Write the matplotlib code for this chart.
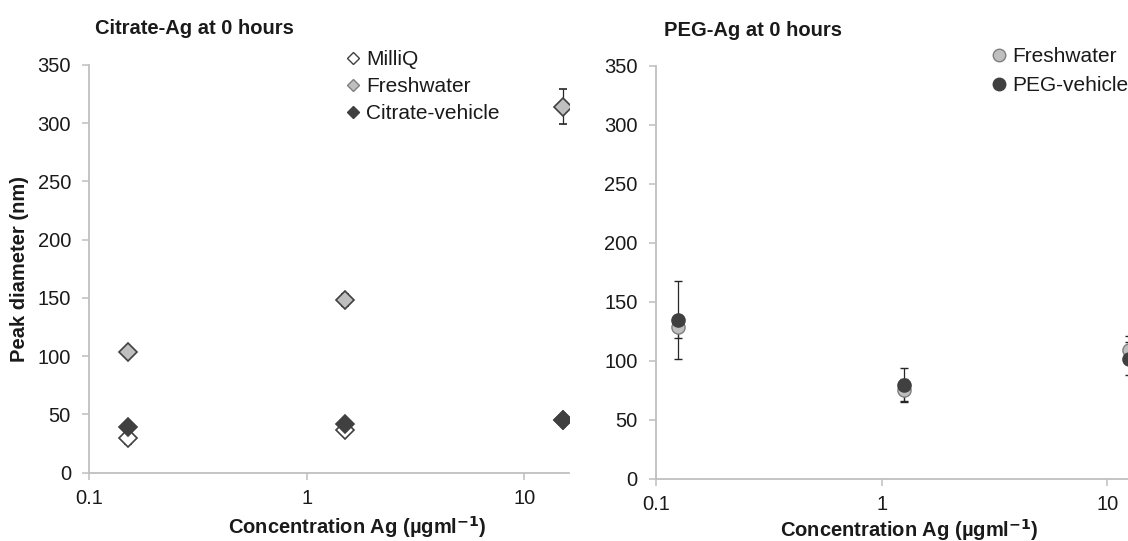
import matplotlib
matplotlib.use("Agg")
import matplotlib.pyplot as plt
from matplotlib.ticker import FixedLocator, FixedFormatter, NullLocator
from matplotlib.lines import Line2D

plt.rcParams['font.family'] = ['Liberation Sans', 'DejaVu Sans']

# Citrate-Ag panel
cit_conc = [0.15, 1.5, 15]
cit_milliq = [30, 37, 45]
cit_milliq_err = [5, 3, 2]
cit_fresh = [104, 148, 314]
cit_fresh_err = [2, 5, 15]
cit_vehicle = [39, 42, 45]
cit_vehicle_err = [2, 2, 2]

# PEG-Ag panel
peg_conc = [0.125, 1.25, 12.5]
peg_fresh = [129, 75, 109]
peg_fresh_err = [10, 10, 12]
peg_vehicle = [135, 80, 102]
peg_vehicle_err = [33, 14, 14]

x_ticks = [0.1, 1, 10]
x_tick_labels = ['0.1', '1', '10']
y_ticks = [0, 50, 100, 150, 200, 250, 300, 350]

W, H = 1128, 541
fig = plt.figure(figsize=(W / 100, H / 100), dpi=100)

ax1 = fig.add_axes([89.3 / W, (H - 472.7) / H, 480 / W, 407.7 / H])
ax2 = fig.add_axes([656 / W, (H - 479) / H, 472 / W, 413.4 / H])

spine_col = '#bfbfbf'
txt_col = '#1a1a1a'


def style_axes(ax, xmax):
    ax.set_xscale('log')
    ax.set_xlim(0.1, xmax)
    ax.set_ylim(0, 350)
    ax.xaxis.set_major_locator(FixedLocator(x_ticks))
    ax.xaxis.set_major_formatter(FixedFormatter(x_tick_labels))
    ax.xaxis.set_minor_locator(NullLocator())
    ax.set_yticks(y_ticks)
    for s in ['top', 'right']:
        ax.spines[s].set_visible(False)
    for s in ['left', 'bottom']:
        ax.spines[s].set_color(spine_col)
        ax.spines[s].set_linewidth(1.3)
    ax.tick_params(axis='both', direction='out', length=4.7, width=1.1,
                   color=spine_col, labelsize=14.5, labelcolor=txt_col)
    ax.tick_params(axis='y', pad=8.5)
    ax.tick_params(axis='x', pad=7)
    ax.patch.set_alpha(0)


style_axes(ax1, 10 ** ((569.3 - 89.3) / 217.5) * 0.1)
style_axes(ax2, 10 ** ((1128 - 656) / 225.7) * 0.1)
ax2.set_zorder(2)

err_kw = dict(ecolor='#262626', elinewidth=0.9, capsize=3.2, capthick=0.9, linestyle='none')

ax1.errorbar(cit_conc, cit_milliq, yerr=cit_milliq_err, fmt='D', ms=9.5,
             mfc='white', mec='#404040', mew=1.2, **err_kw)
ax1.errorbar(cit_conc, cit_fresh, yerr=cit_fresh_err, fmt='D', ms=9.5,
             mfc='#bfbfbf', mec='#404040', mew=1.2, **err_kw)
ax1.errorbar(cit_conc, cit_vehicle, yerr=cit_vehicle_err, fmt='D', ms=9.5,
             mfc='#404040', mec='#404040', mew=1.2, **err_kw)

r1 = ax2.errorbar(peg_conc, peg_fresh, yerr=peg_fresh_err, fmt='o', ms=9.5,
                  mfc='#bfbfbf', mec='#7f7f7f', mew=1.0, **err_kw)
r2 = ax2.errorbar(peg_conc, peg_vehicle, yerr=peg_vehicle_err, fmt='o', ms=9.5,
                  mfc='#404040', mec='#404040', mew=1.0, **err_kw)
for r in (r1, r2):
    r[0].set_clip_on(False)
    for c in r[1]:
        c.set_clip_on(False)
    for c in r[2]:
        c.set_clip_on(False)

# titles
fig.text(94.6 / W, 1 - 28.3 / H, 'Citrate-Ag at 0 hours', fontsize=14.5,
         fontweight='bold', color=txt_col, ha='left', va='center')
fig.text(664.3 / W, 1 - 30.4 / H, 'PEG-Ag at 0 hours', fontsize=14.5,
         fontweight='bold', color=txt_col, ha='left', va='center')

# axis labels
fig.text(19.6 / W, 1 - 269 / H, 'Peak diameter (nm)', fontsize=14.5,
         fontweight='bold', color=txt_col, rotation=90, ha='center', va='center')
fig.text(357 / W, 1 - 527 / H, 'Concentration Ag (\u00b5gml$^{\\mathbf{-1}}$)',
         fontsize=14.5, fontweight='bold', color=txt_col, ha='center', va='center')
fig.text(909.5 / W, 1 - 530 / H, 'Concentration Ag (\u00b5gml$^{\\mathbf{-1}}$)',
         fontsize=14.5, fontweight='bold', color=txt_col, ha='center', va='center')

# legends
h1 = [Line2D([], [], marker='D', ls='none', ms=6.5, mfc='white', mec='#404040', mew=1.0),
      Line2D([], [], marker='D', ls='none', ms=6.5, mfc='#bfbfbf', mec='#7f7f7f', mew=1.0),
      Line2D([], [], marker='D', ls='none', ms=6.5, mfc='#404040', mec='#404040', mew=1.0)]
leg1 = fig.legend(h1, ['MilliQ', 'Freshwater', 'Citrate-vehicle'], loc='upper left',
                  bbox_to_anchor=(347 / W, 1 - 50 / H), frameon=False, fontsize=15,
                  handlelength=0.6, handletextpad=0.3, labelspacing=0.38, borderpad=0,
                  borderaxespad=0)
h2 = [Line2D([], [], marker='o', ls='none', ms=9, mfc='#bfbfbf', mec='#7f7f7f', mew=1.0),
      Line2D([], [], marker='o', ls='none', ms=9, mfc='#404040', mec='#404040', mew=1.0)]
leg2 = fig.legend(h2, ['Freshwater', 'PEG-vehicle'], loc='upper left',
                  bbox_to_anchor=(993 / W, 1 - 47.5 / H), frameon=False, fontsize=15,
                  handlelength=0.6, handletextpad=0.3, labelspacing=0.45, borderpad=0,
                  borderaxespad=0)
for leg in (leg1, leg2):
    for t in leg.get_texts():
        t.set_color(txt_col)

fig.savefig('out.png', dpi=100)
